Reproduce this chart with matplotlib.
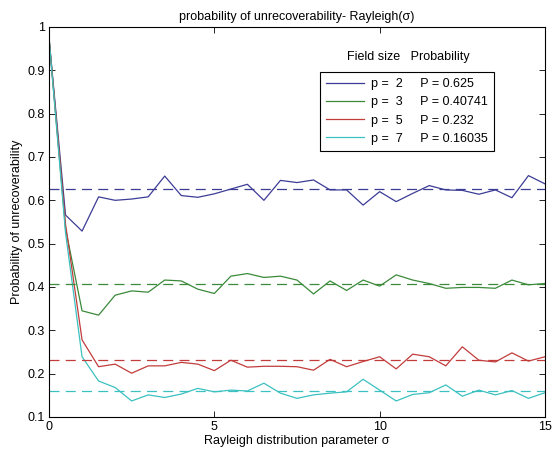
import matplotlib
matplotlib.use('Agg')
import matplotlib.pyplot as plt

plt.rcParams['font.family'] = ['Liberation Sans', 'DejaVu Sans']
plt.rcParams['font.size'] = 9

# sigma values (step 0.5)
sigma = [i * 0.5 for i in range(31)]

p2 = [0.975, 0.566, 0.529, 0.608, 0.600, 0.603, 0.608, 0.656, 0.611, 0.607,
      0.615, 0.626, 0.637, 0.600, 0.646, 0.641, 0.647, 0.624, 0.624, 0.589,
      0.620, 0.597, 0.616, 0.634, 0.624, 0.623, 0.614, 0.624, 0.606, 0.657, 0.638]
p3 = [0.975, 0.535, 0.345, 0.335, 0.381, 0.391, 0.388, 0.416, 0.414, 0.395,
      0.385, 0.425, 0.431, 0.422, 0.425, 0.416, 0.384, 0.414, 0.392, 0.416,
      0.402, 0.428, 0.416, 0.408, 0.397, 0.399, 0.399, 0.397, 0.416, 0.405, 0.408]
p5 = [0.975, 0.545, 0.278, 0.216, 0.222, 0.201, 0.218, 0.218, 0.226, 0.222,
      0.207, 0.231, 0.215, 0.217, 0.217, 0.216, 0.208, 0.233, 0.216, 0.228,
      0.239, 0.211, 0.245, 0.239, 0.218, 0.262, 0.231, 0.227, 0.248, 0.229, 0.239]
p7 = [0.975, 0.525, 0.239, 0.183, 0.168, 0.137, 0.151, 0.145, 0.153, 0.166,
      0.158, 0.162, 0.160, 0.178, 0.155, 0.143, 0.151, 0.155, 0.158, 0.187,
      0.162, 0.137, 0.152, 0.156, 0.174, 0.148, 0.162, 0.151, 0.161, 0.143, 0.156]

field_sizes = [2, 3, 5, 7]
theory = [0.625, 0.40741, 0.232, 0.16035]
theory_txt = ['0.625', '0.40741', '0.232', '0.16035']
series = [p2, p3, p5, p7]
colors = ['#3c3c96', '#3a8a3a', '#c23c3c', '#3cc0c0']

fig = plt.figure(figsize=(5.53, 4.53), dpi=100)
ax = fig.add_axes([0.0886, 0.0795, 0.8969, 0.8609])

for vals, p, Ptxt, c in zip(series, field_sizes, theory_txt, colors):
    ax.plot(sigma, vals, color=c, lw=0.9,
            label='p =  %d     P = %s' % (p, Ptxt))
for P, c in zip(theory, colors):
    ax.axhline(P, color=c, lw=0.9, ls=(0, (8, 5)))

ax.set_xlim(0, 15)
ax.set_ylim(0.1, 1)
ax.set_xticks([0, 5, 10, 15])
ax.set_yticks([0.1, 0.2, 0.3, 0.4, 0.5, 0.6, 0.7, 0.8, 0.9, 1])
ax.set_yticklabels(['0.1', '0.2', '0.3', '0.4', '0.5', '0.6', '0.7', '0.8', '0.9', '1'])
ax.tick_params(direction='in', top=True, right=True, length=4, width=0.6, pad=3)
for s in ax.spines.values():
    s.set_linewidth(0.8)

ax.set_title('probability of unrecoverability- Rayleigh(σ)', fontsize=9, pad=5)
ax.set_xlabel('Rayleigh distribution parameter σ', labelpad=1)
ax.set_ylabel('Probability of unrecoverability', labelpad=3)

leg = ax.legend(loc='upper left', bbox_to_anchor=(0.546, 0.885), frameon=True,
                fancybox=False, edgecolor='black', framealpha=1,
                handlelength=3.0, handletextpad=0.6, borderpad=0.5,
                borderaxespad=0, labelspacing=0.5, fontsize=9)
leg.get_frame().set_linewidth(0.8)
ax.text(0.724, 0.923, 'Field size   Probability', transform=ax.transAxes,
        ha='center', va='center', fontsize=9)

fig.savefig('out.png', dpi=100)
